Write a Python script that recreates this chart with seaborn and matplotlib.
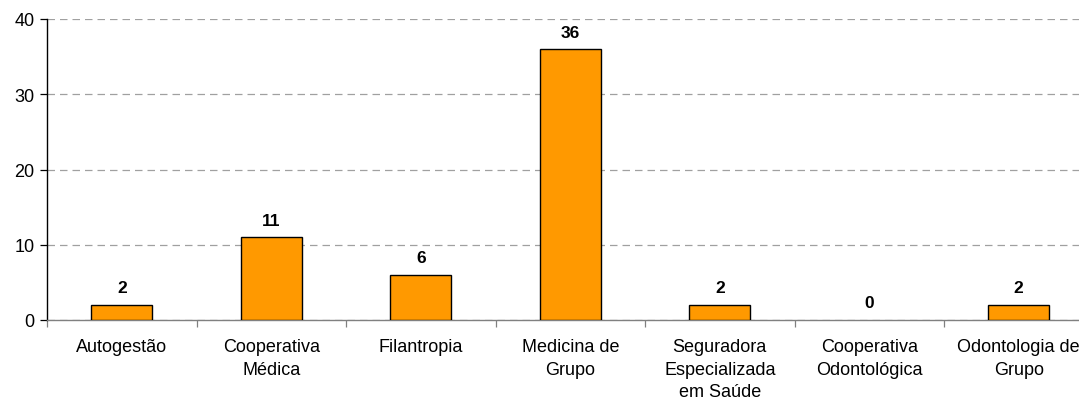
import seaborn as sns
import pandas as pd
import numpy as np
import matplotlib.pyplot as plt

categorias = ["Autogestão", "Cooperativa\nMédica", "Filantropia", "Medicina de\nGrupo",
              "Seguradora\nEspecializada\nem Saúde", "Cooperativa\nOdontológica",
              "Odontologia de\nGrupo"]
valores = [2, 11, 6, 36, 2, 0, 2]

sns.set_style("white")
plt.rcParams['font.family'] = ['Liberation Sans', 'DejaVu Sans']
plt.rcParams['text.color'] = 'black'
plt.rcParams['xtick.color'] = 'black'
plt.rcParams['ytick.color'] = 'black'

df = pd.DataFrame({'cat': categorias, 'val': valores})

fig = plt.figure(figsize=(10.79, 4.02), dpi=100)
# eixo ultrapassa a borda direita, como no original
ax = fig.add_axes([47/1079, 81/402, 1046.5/1079, 301/402])

sns.barplot(data=df, x='cat', y='val', color='#FF9900', edgecolor='black',
            linewidth=1.0, width=0.41, saturation=1, ax=ax, zorder=3)

# barra com valor 0 nao mostra contorno
for p, v in zip(ax.patches, valores):
    if v == 0:
        p.set_linewidth(0)

for i, v in enumerate(valores):
    ax.annotate(str(v), (i, v), xytext=(0, 9), textcoords='offset points',
                ha='center', va='baseline', fontsize=12.5, fontweight='bold',
                color='black')

ax.set_xlim(-0.5, 6.5)
ax.set_ylim(0, 40)
ax.set_yticks([0, 10, 20, 30, 40])
ax.yaxis.grid(True, color='#a0a0a0', linestyle=(0, (6, 4)), linewidth=0.9, zorder=0)
ax.set_xlabel('')
ax.set_ylabel('')

ax.set_xticks(np.arange(-0.5, 7, 1), minor=True)
ax.tick_params(axis='x', which='major', bottom=True, length=0, pad=13, labelsize=13,
               labelcolor='black')
ax.tick_params(axis='x', which='minor', bottom=True, length=5, color='#808080',
               width=0.9, direction='out')
ax.tick_params(axis='y', left=True, length=5, width=0.9, direction='out', pad=4,
               labelsize=13, color='black', labelcolor='black')
for lbl in ax.get_xticklabels():
    lbl.set_linespacing(1.42)

sns.despine(ax=ax, top=True, right=True)
ax.spines['left'].set_color('black')
ax.spines['left'].set_linewidth(1.0)
ax.spines['bottom'].set_color('#808080')
ax.spines['bottom'].set_linewidth(1.0)

fig.savefig('out.png', dpi=100)
